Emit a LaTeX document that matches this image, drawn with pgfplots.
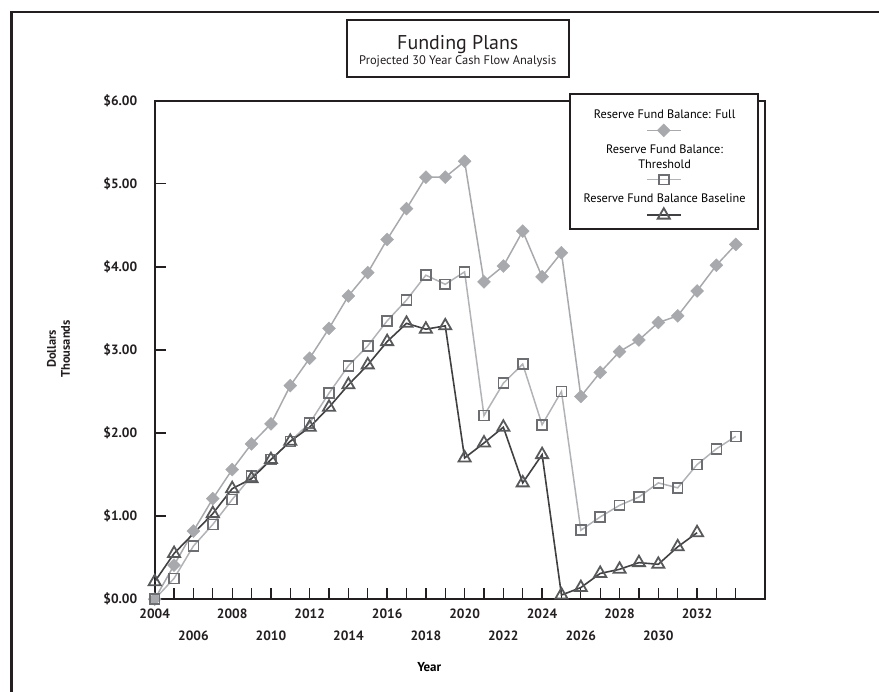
\documentclass[border=0pt]{standalone}
\usepackage{pgfplots}
\pgfplotsset{compat=1.18}
\usepackage{fontspec}
\setmainfont{PT Sans}

\definecolor{frame}{HTML}{231F20}
\definecolor{fullc}{HTML}{A7A9AC}
\definecolor{thrline}{HTML}{B1B3B6}
\definecolor{thrmark}{HTML}{6D6E71}
\definecolor{baseln}{HTML}{414042}
\definecolor{basemark}{HTML}{58595B}

\newlength\legw
\newcommand\legfont{\fontsize{12.3}{15}\selectfont}

% legend sample drawn under the text: #1 = depth of the line, #2 = depth of the row
\pgfplotsset{
  legsample/.style 2 args={legend image code/.code={
    \draw[overlay,mark repeat=2,mark phase=2,##1] plot coordinates {
      (0.5\legw+2pt-17pt,-#1) (0.5\legw+2pt,-#1) (0.5\legw+2pt+17pt,-#1)};
    \path (0pt,0pt) (0pt,-#2);
  }}
}

\begin{document}
\settowidth\legw{\legfont Reserve Fund Balance Baseline}
\begin{tikzpicture}
\useasboundingbox (0,0) rectangle (879pt,-694pt);
\begin{axis}[
  scale only axis, width=612pt, height=500pt,
  at={(152.5pt,-601pt)}, anchor=south west,
  xmin=2004, xmax=2035.5, ymin=0, ymax=6,
  axis line style={line width=2.2pt, color=frame},
  tick style={line width=1.3pt, color=frame},
  tick align=inside,
  major tick length=11pt, minor tick length=11pt,
  xtick pos=bottom, ytick pos=left,
  xtick={2004,2008,2012,2016,2020,2024,2028,2032},
  xticklabels={2004,2008,2012,2016,2020,2024,2028,2032},
  extra x ticks={2006,2010,2014,2018,2022,2026,2030},
  extra x tick labels={2006,2010,2014,2018,2022,2026,2030},
  extra x tick style={xticklabel style={yshift=-22pt}},
  minor xtick={2005,2007,2009,2011,2013,2015,2017,2019,2021,2023,2025,2027,2029,2031,2033,2034},
  ytick={0,1,2,3,4,5,6},
  yticklabels={\$0.00,\$1.00,\$2.00,\$3.00,\$4.00,\$5.00,\$6.00},
  ticklabel style={font=\bfseries\fontsize{13.5}{15}\selectfont, color=frame},
  xticklabel style={yshift=-6pt},
  yticklabel style={xshift=-14pt},
  xlabel={Year},
  xlabel style={at={(axis description cs:0.45,-0.136)}, anchor=center,
    font=\bfseries\fontsize{13}{15}\selectfont},
  legend style={at={(0.679,1.016)}, anchor=north west, draw=frame, line width=2pt,
    fill=white, inner xsep=10pt, inner ysep=12pt, row sep=3pt, column sep=0pt,
    cells={anchor=north},
    nodes={inner sep=2pt, align=center, font=\legfont}},
]
\addplot[fullc, line width=1.5pt, mark=square*, mark size=4.6pt,
  mark options={solid, rotate=45, fill=fullc, draw=fullc, line width=0.4pt},
  legsample={24pt}{31pt}]
  coordinates {
    (2004,0)(2005,0.41)(2006,0.82)(2007,1.21)(2008,1.56)(2009,1.87)(2010,2.11)
    (2011,2.57)(2012,2.90)(2013,3.26)(2014,3.65)(2015,3.93)(2016,4.33)(2017,4.70)
    (2018,5.08)(2019,5.08)(2020,5.27)(2021,3.82)(2022,4.01)(2023,4.43)(2024,3.88)
    (2025,4.17)(2026,2.44)(2027,2.73)(2028,2.98)(2029,3.12)(2030,3.33)(2031,3.41)
    (2032,3.71)(2033,4.02)(2034,4.27)
  };
\addlegendentry{Reserve Fund Balance: Full}
\addplot[thrline, line width=1.5pt, mark=square, mark size=5pt,
  mark options={solid, draw=thrmark, line width=1.6pt},
  legsample={38pt}{45pt}]
  coordinates {
    (2004,0)(2005,0.25)(2006,0.64)(2007,0.90)(2008,1.20)(2009,1.48)(2010,1.68)
    (2011,1.90)(2012,2.12)(2013,2.48)(2014,2.81)(2015,3.05)(2016,3.35)(2017,3.60)
    (2018,3.90)(2019,3.79)(2020,3.94)(2021,2.21)(2022,2.60)(2023,2.83)(2024,2.10)
    (2025,2.50)(2026,0.83)(2027,0.99)(2028,1.13)(2029,1.23)(2030,1.40)(2031,1.34)
    (2032,1.62)(2033,1.81)(2034,1.96)
  };
\addlegendentry{Reserve Fund Balance:\\Threshold}
\addplot[baseln, line width=1.6pt, mark=triangle, mark size=7pt,
  mark options={solid, draw=basemark, line width=1.8pt},
  legsample={24pt}{25pt}]
  coordinates {
    (2004,0.21)(2005,0.55)(2007,1.03)(2008,1.33)(2009,1.45)(2010,1.68)(2011,1.90)
    (2012,2.07)(2013,2.31)(2014,2.58)(2015,2.82)(2016,3.10)(2017,3.32)(2018,3.25)
    (2019,3.29)(2020,1.70)(2021,1.88)(2022,2.07)(2023,1.40)(2024,1.74)(2025,0.05)
    (2026,0.14)(2027,0.31)(2028,0.36)(2029,0.44)(2030,0.42)(2031,0.63)(2032,0.80)
  };
\addlegendentry{Reserve Fund Balance Baseline}
\end{axis}
\node[rotate=90, align=center, font=\bfseries\fontsize{12.5}{14}\selectfont, text=frame]
  at (56pt,-350pt) {Dollars\\Thousands};
\draw[frame, line width=2.5pt] (9pt,-12pt) rectangle (900pt,-720pt);
\draw[frame, line width=2.2pt] (345pt,-20pt) rectangle (568pt,-77pt);
\node[anchor=base, font=\fontsize{20}{24}\selectfont, text=frame] at (456.5pt,-50pt) {Funding Plans};
\node[anchor=base, font=\fontsize{12.5}{14}\selectfont, text=frame] at (456.5pt,-65pt) {Projected 30 Year Cash Flow Analysis};
\end{tikzpicture}
\end{document}
